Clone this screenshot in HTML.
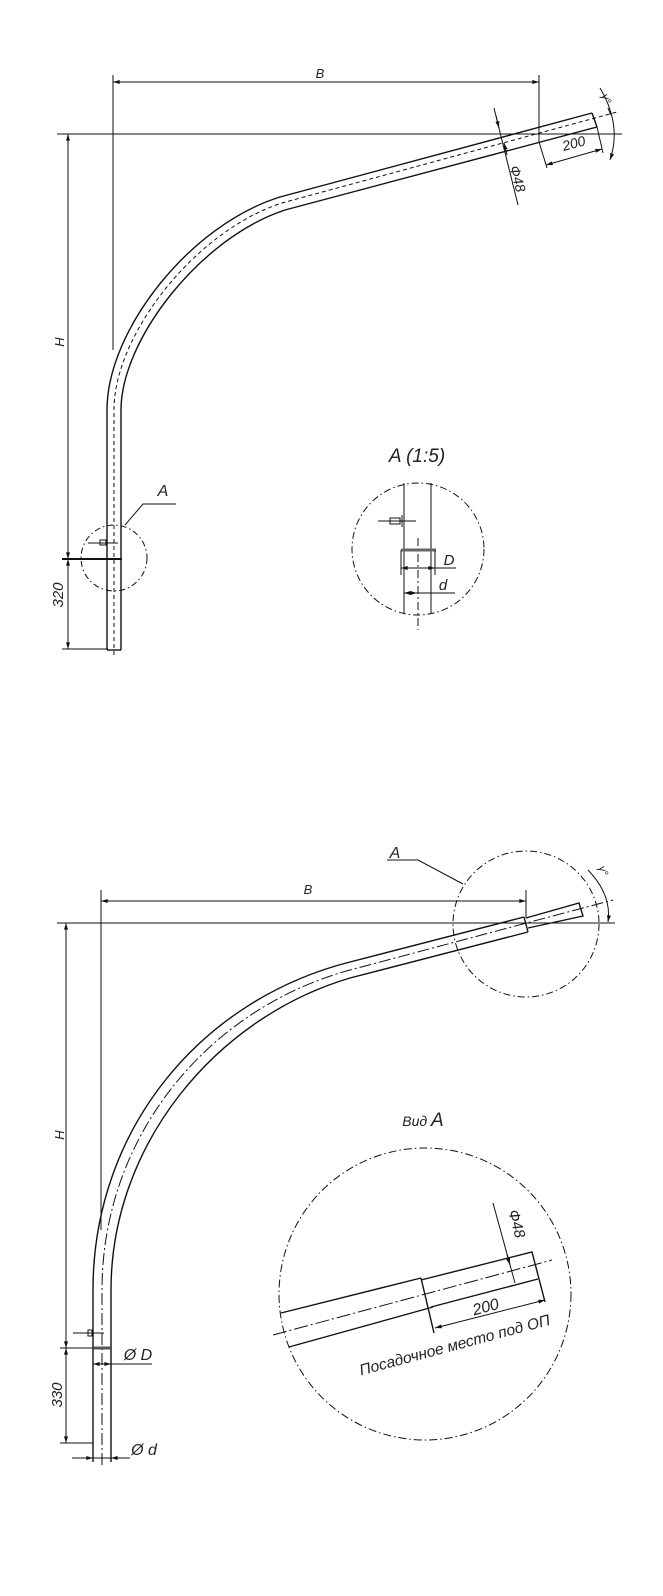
<!DOCTYPE html>
<html><head><meta charset="utf-8"><style>
html,body{margin:0;padding:0;background:#fff;}
svg{display:block;}
text{font-family:"Liberation Sans",sans-serif;font-style:italic;fill:#222;}
</style></head><body>
<svg width="663" height="1596" viewBox="0 0 663 1596" xmlns="http://www.w3.org/2000/svg">
<defs>
<marker id="ar" viewBox="0 0 10 6" refX="10" refY="3" markerWidth="9" markerHeight="4" orient="auto-start-reverse" markerUnits="userSpaceOnUse"><path d="M0,0 L10,3 L0,6 z" fill="#111"/></marker>
</defs>
<g stroke="#111" fill="none" stroke-width="1">
<!-- ===== TOP DRAWING ===== -->
<line x1="113" y1="75" x2="113" y2="350"/>
<line x1="57" y1="134" x2="622" y2="134"/>
<line x1="113" y1="82" x2="539" y2="82" marker-start="url(#ar)" marker-end="url(#ar)"/>
<line x1="539" y1="75" x2="539" y2="142"/>
<line x1="68" y1="134" x2="68" y2="559" marker-start="url(#ar)" marker-end="url(#ar)"/>
<line x1="68" y1="559" x2="68" y2="649" marker-start="url(#ar)" marker-end="url(#ar)"/>
<line x1="62" y1="649" x2="108" y2="649"/>
<g stroke-width="1.4">
<path d="M107,650 L107,410 C107,330 190,225 280,197 L592,113"/>
<path d="M121,650 L121,410 C121,340 200,238 285,210 L597,127"/>
<line x1="592" y1="113" x2="597" y2="127"/>
<line x1="107" y1="650" x2="121" y2="650"/>
</g>
<path d="M114,655 L114,410 C114,335 195,231 282,203 L617,112" stroke-dasharray="4,3"/>
<line x1="62" y1="559" x2="122" y2="559" stroke-width="2"/>
<line x1="88" y1="543" x2="118" y2="543"/>
<rect x="100" y="540" width="6" height="5" stroke-width="1"/>
<circle cx="114" cy="558" r="33" stroke-dasharray="6,3,1.5,3"/>
<polyline points="125,525 143,504 176,504"/>
<line x1="494" y1="108" x2="518" y2="205"/>
<line x1="496" y1="116" x2="499" y2="128" marker-end="url(#ar)"/>
<line x1="507" y1="155" x2="504" y2="143" marker-end="url(#ar)"/>
<line x1="539" y1="142" x2="547" y2="168"/>
<line x1="597" y1="127" x2="603" y2="153"/>
<line x1="546" y1="165" x2="602" y2="149" marker-start="url(#ar)" marker-end="url(#ar)"/>
<path d="M600,88 Q622,125 610,160" marker-end="url(#ar)"/>
<line x1="608" y1="108" x2="611" y2="115" />
<!-- ===== DETAIL A (1:5) ===== -->
<circle cx="418" cy="549" r="66" stroke-dasharray="7,3,1.5,3"/>
<line x1="404" y1="483" x2="404" y2="614"/>
<line x1="431" y1="483" x2="431" y2="614"/>
<line x1="418" y1="538" x2="418" y2="630" stroke-dasharray="8,3,2,3"/>
<line x1="378" y1="521" x2="416" y2="521"/>
<rect x="390" y="518" width="10" height="6"/>
<line x1="402" y1="515" x2="402" y2="527"/>
<line x1="401" y1="550" x2="436" y2="550" stroke="#666" stroke-width="3"/>
<line x1="401" y1="550" x2="401" y2="575"/>
<line x1="435" y1="550" x2="435" y2="575"/>
<line x1="401" y1="568" x2="435" y2="568" marker-start="url(#ar)" marker-end="url(#ar)"/>
<line x1="435" y1="568" x2="456" y2="568"/>
<line x1="404" y1="593" x2="417" y2="593" marker-start="url(#ar)" marker-end="url(#ar)"/>
<line x1="417" y1="593" x2="455" y2="593"/>
<!-- ===== BOTTOM DRAWING ===== -->
<line x1="101" y1="890" x2="101" y2="1230"/>
<line x1="57" y1="923" x2="615" y2="923"/>
<line x1="101" y1="901" x2="526" y2="901" marker-start="url(#ar)" marker-end="url(#ar)"/>
<line x1="526" y1="890" x2="526" y2="918"/>
<line x1="66" y1="923" x2="66" y2="1348" marker-start="url(#ar)" marker-end="url(#ar)"/>
<line x1="66" y1="1348" x2="66" y2="1443" marker-start="url(#ar)" marker-end="url(#ar)"/>
<line x1="60" y1="1348" x2="93" y2="1348"/>
<line x1="60" y1="1443" x2="93" y2="1443"/>
<g stroke-width="1.4">
<path d="M93,1462 L93,1290 C93,1130 200,1000 350,962 L524,917"/>
<path d="M111,1462 L111,1290 C111,1145 215,1018 350,978 L528,932"/>
<line x1="524" y1="917" x2="528" y2="932"/>
<path d="M526,918 L579,903 L583,916 L528,928"/>
</g>
<path d="M102,1465 L102,1290 C102,1137 207,1009 350,970 L613,900" stroke-dasharray="12,3,2,3"/>
<line x1="93" y1="1348" x2="111" y2="1348" stroke="#555" stroke-width="3"/>
<line x1="93" y1="1348" x2="93" y2="1370"/>
<line x1="111" y1="1348" x2="111" y2="1370"/>
<line x1="93" y1="1364" x2="111" y2="1364" marker-start="url(#ar)" marker-end="url(#ar)"/>
<line x1="111" y1="1364" x2="152" y2="1364"/>
<line x1="73" y1="1333" x2="104" y2="1333"/>
<rect x="88" y="1330" width="4" height="6"/>
<line x1="72" y1="1458" x2="93" y2="1458" marker-end="url(#ar)"/>
<line x1="130" y1="1458" x2="111" y2="1458" marker-end="url(#ar)"/>
<line x1="93" y1="1458" x2="111" y2="1458"/>
<circle cx="526" cy="924" r="73" stroke-dasharray="7,3,1.5,3"/>
<polyline points="387,860 418,860 463,884"/>
<path d="M588,870 Q612,895 608,922" marker-end="url(#ar)"/>
<circle cx="425" cy="1294" r="146" stroke-dasharray="8,3,1.5,3"/>
<g stroke-width="1.4">
<line x1="281" y1="1313" x2="421" y2="1278"/>
<line x1="289" y1="1347" x2="433" y2="1307"/>
<line x1="421" y1="1278" x2="434" y2="1333"/>
<path d="M421,1280 L532,1252 L545,1302"/>
<line x1="431" y1="1307" x2="538" y2="1279"/>
</g>
<line x1="273" y1="1335" x2="552" y2="1260" stroke-dasharray="14,3,2,3"/>
<line x1="435" y1="1328" x2="545" y2="1300" marker-start="url(#ar)" marker-end="url(#ar)"/>
<line x1="493" y1="1203" x2="515" y2="1283"/>
<line x1="507" y1="1255" x2="510" y2="1265" marker-end="url(#ar)"/>
</g>
<!-- TEXT -->
<text x="320" y="78" font-size="13" text-anchor="middle">B</text>
<text transform="translate(64,342) rotate(-90)" font-size="13" text-anchor="middle">H</text>
<text transform="translate(63,595) rotate(-90)" font-size="15" text-anchor="middle">320</text>
<text x="163" y="496" font-size="16" text-anchor="middle">A</text>
<text transform="translate(575,148) rotate(-15)" font-size="14" text-anchor="middle">200</text>
<text transform="translate(513,180) rotate(75)" font-size="14" text-anchor="middle">Ф48</text>
<text transform="translate(603,100) rotate(70)" font-size="11" text-anchor="middle">γ°</text>
<text x="417" y="462" font-size="19" text-anchor="middle">A  (1:5)</text>
<text x="449" y="565" font-size="15" text-anchor="middle">D</text>
<text x="443" y="590" font-size="15" text-anchor="middle">d</text>
<text x="308" y="894" font-size="13" text-anchor="middle">B</text>
<text transform="translate(64,1135) rotate(-90)" font-size="13" text-anchor="middle">H</text>
<text transform="translate(62,1395) rotate(-90)" font-size="15" text-anchor="middle">330</text>
<text x="395" y="858" font-size="16" text-anchor="middle">A</text>
<text transform="translate(600,872) rotate(70)" font-size="11" text-anchor="middle">γ°</text>
<text x="138" y="1360" font-size="16" text-anchor="middle">Ø D</text>
<text x="144" y="1455" font-size="16" text-anchor="middle">Ø d</text>
<text x="423" y="1126" font-size="14" text-anchor="middle">Вид  <tspan font-size="19">A</tspan></text>
<text transform="translate(487,1312) rotate(-15)" font-size="16" text-anchor="middle">200</text>
<text transform="translate(512,1225) rotate(75)" font-size="15" text-anchor="middle">Ф48</text>
<text transform="translate(456,1350) rotate(-15)" font-size="15.5" text-anchor="middle">Посадочное место под ОП</text>
</svg>
</body></html>
